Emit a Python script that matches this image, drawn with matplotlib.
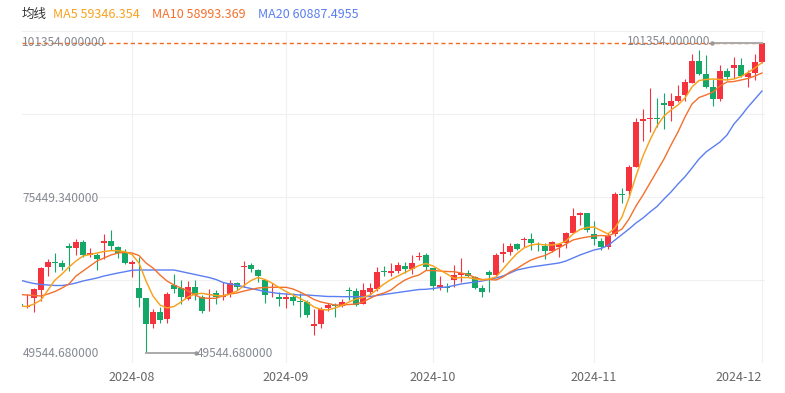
import matplotlib.pyplot as plt
from matplotlib.transforms import blended_transform_factory

plt.rcParams['font.family'] = ['Noto Sans CJK SC', 'DejaVu Sans']

# daily candles (weekdays), oldest first
opens = [57740, 57190, 58690, 60080, 63970, 64710, 64540, 67430, 67050, 68150,
         65930, 65930, 67880, 68220, 67320, 66210, 64420, 60360, 58690, 54350,
         56450, 55180, 60920, 60360, 58630, 60530, 58960, 59290, 59530, 58860,
         59360, 61200, 63970, 64260, 63420, 61750, 60360, 58960, 58530, 58960,
         58240, 58130, 54120, 54400, 57020, 57460, 57410, 60030, 59960, 57740,
         59800, 60200, 63210, 62970, 63310, 64140, 63540, 65590, 65930, 63710,
         60530, 60580, 61750, 62590, 62970, 62300, 60360, 63140, 62590, 66050,
         66480, 67720, 68490, 68550, 67770, 67430, 66650, 67320, 67880, 69660,
         72610, 72900, 69440, 68350, 67220, 69440, 76120, 76620, 80680, 88370,
         88600, 88820, 91330, 90830, 91710, 92660, 94720, 98400, 96220, 93950,
         91950, 96680, 97230, 97680, 95720, 96390, 98230]
highs = [58410, 59360, 60460, 63970, 65210, 66210, 65090, 67880, 68550, 68440,
         67150, 66310, 69440, 70110, 67480, 66880, 65090, 65640, 58690, 56860,
         57190, 59800, 62750, 61750, 61630, 61750, 59250, 60200, 60080, 61470,
         61750, 61470, 64930, 64540, 63590, 61870, 61300, 59800, 59530, 59630,
         59530, 58410, 56860, 57190, 57860, 57860, 58530, 60630, 60360, 61300,
         61300, 63970, 64090, 64640, 64810, 64760, 65930, 66480, 66210, 63810,
         62420, 61300, 64260, 65380, 63420, 62420, 60920, 63420, 66310, 67880,
         67880, 67880, 68990, 69560, 68150, 67880, 68320, 67880, 69820, 73730,
         73060, 73000, 71610, 68720, 69560, 76510, 77070, 80970, 88770, 90330,
         93780, 92110, 93050, 92950, 94340, 95290, 99520, 100180, 99350, 95290,
         97680, 97130, 98960, 98800, 96840, 99520, 101354]
lows = [57070, 57020, 56450, 58290, 62420, 63140, 63420, 63310, 65930, 65540,
        65640, 63420, 65210, 66760, 65380, 64420, 62300, 57190, 49544.68, 53780,
        54620, 54520, 59530, 57740, 58410, 58410, 56190, 56620, 57740, 58410,
        58960, 60080, 60530, 63140, 61470, 57860, 58960, 57410, 57020, 57570,
        55620, 55620, 52560, 53680, 56570, 55520, 57290, 58410, 57410, 57660,
        59250, 59960, 62420, 62420, 62870, 62970, 62750, 65090, 63420, 60080,
        60080, 59800, 60530, 61470, 62200, 60200, 58860, 59800, 62300, 64810,
        65930, 66760, 67320, 66760, 66650, 65210, 66480, 65540, 67050, 69560,
        70940, 69820, 67600, 66760, 66880, 69100, 74670, 75670, 80580, 85030,
        86530, 87270, 86930, 88370, 91550, 91710, 94620, 96010, 93780, 90880,
        91710, 95170, 95460, 95620, 94050, 95170, 97960]
closes = [57410, 57460, 60200, 63810, 64710, 64540, 63970, 67050, 68150, 65930,
          66210, 65210, 68220, 67480, 66310, 64540, 64810, 58690, 54350, 56450,
          55070, 59410, 60250, 58860, 60530, 59250, 56620, 59410, 58960, 59080,
          61200, 60530, 64090, 63540, 62420, 59250, 60530, 58630, 58960, 58240,
          58130, 55900, 54350, 56860, 57570, 57360, 58130, 59910, 57570, 60080,
          60360, 63040, 63090, 63310, 64260, 63540, 64640, 65710, 63970, 60750,
          60920, 60460, 62590, 62970, 62420, 60360, 59800, 62590, 65930, 66480,
          67480, 66930, 68600, 67880, 67650, 66650, 68100, 67720, 69660, 72450,
          72900, 70110, 68520, 67220, 69150, 76120, 76010, 80680, 88200, 88600,
          88820, 88600, 90990, 91660, 92550, 94790, 98400, 96170, 94050, 92000,
          96730, 95620, 97680, 95840, 96390, 98130, 101300]

ma5 = [57406, 57323, 57741, 58409, 60080, 61751, 62754, 63923, 64926, 65761,
       66012, 66263, 66513, 66647, 66647, 66480, 66012, 64592, 61584, 59077,
       57574, 57072, 57323, 58075, 58910, 59412, 59529, 59328, 59161, 59077,
       59412, 59913, 60832, 61667, 62169, 61835, 61250, 60498, 59829, 59245,
       58660, 58075, 57239, 56822, 56738, 57072, 57490, 58075, 58576, 58827,
       59245, 60164, 61083, 61835, 62419, 63004, 63589, 64174, 64508, 64090,
       63422, 62754, 62035, 62169, 62169, 61918, 61751, 61918, 62252, 63589,
       64926, 66179, 67098, 67599, 67767, 67599, 67599, 67767, 68268, 69438,
       70190, 70524, 70607, 70022, 69438, 70440, 72278, 75453, 79129, 82471,
       85145, 87484, 89155, 90158, 90993, 92163, 94001, 95087, 95255, 95338,
       95255, 95171, 95338, 95756, 96424, 97176, 98095]
ma10 = [59328, 59245, 59161, 59077, 59412, 59829, 60414, 61083, 62419, 63255,
        64090, 64926, 65427, 65929, 66263, 66379, 66263, 65845, 64592, 63756,
        62586, 61584, 60916, 60414, 59913, 59245, 58743, 58693, 58693, 59128,
        59412, 59579, 59913, 60164, 60414, 60498, 60531, 60531, 60531, 60247,
        59746, 59161, 58493, 58075, 57824, 57574, 57574, 57657, 57741, 58075,
        58693, 59245, 59579, 60080, 60999, 61751, 62252, 62586, 63338, 63338,
        63255, 63171, 63138, 62921, 62670, 62169, 61835, 61835, 61751, 62252,
        63088, 63673, 64425, 65093, 65511, 65845, 66430, 67098, 67767, 68435,
        68719, 68936, 69103, 69187, 69103, 69605, 70273, 71944, 74116, 75954,
        77960, 79965, 81970, 84309, 86482, 88988, 91161, 92247, 92665, 93166,
        94168, 94837, 94920, 95171, 95422, 95839, 96341]
ma20 = [61751, 61417, 61166, 60999, 60916, 60832, 60832, 60999, 61250, 61584,
        61835, 62085, 62419, 62670, 62921, 63138, 63372, 63422, 63422, 63422,
        63422, 63422, 63422, 63171, 62921, 62670, 62419, 62169, 61835, 61333,
        61083, 60916, 60581, 60331, 60080, 59829, 59662, 59495, 59412, 59328,
        59245, 59245, 59161, 59077, 58994, 58994, 58960, 58960, 58960, 58960,
        58994, 59161, 59328, 59495, 59662, 59829, 59996, 60164, 60196, 60331,
        60498, 60581, 60832, 61083, 61250, 61417, 61584, 61835, 62085, 62419,
        62921, 63422, 63672, 63923, 64090, 64258, 64424, 64592, 64926, 65427,
        65929, 66346, 66764, 67015, 67516, 68435, 69354, 70273, 71276, 72111,
        73114, 74033, 75286, 76456, 77793, 79012, 80466, 81970, 83140, 83975,
        84811, 85980, 87819, 89155, 90659, 91996, 93333]

tick_pos = [16, 38, 59, 82, 106]
tick_labels = ['2024-08', '2024-09', '2024-10', '2024-11', '2024-12']
legend_items = [('均线', '#333333'), ('MA5 59346.354', '#f8a21e'),
                ('MA10 58993.369', '#f4702c'), ('MA20 60887.4955', '#5b7ef2')]

RED, GREEN = '#f5333f', '#13a867'
W, H = 785, 393

fig = plt.figure(figsize=(W / 100, H / 100), dpi=100)
ax = fig.add_axes([21.7 / W, 1 - 363 / H, (765 - 21.7) / W, (363 - 31) / H])
ylo, yhi = 47882, 103359
ax.set_xlim(0.243, 106.43)
ax.set_ylim(ylo, yhi)

# grid
for f in (0, 0.25, 0.5, 0.75, 1.0):
    ax.axhline(ylo + f * (yhi - ylo), color='#f0f0f0', lw=0.8, zorder=0)
for t in tick_pos:
    ax.axvline(t, color='#f0f0f0', lw=0.8, zorder=0)

# candles
x = list(range(len(closes)))
colors = [RED if c >= o else GREEN for o, c in zip(opens, closes)]
bottoms = [min(o, c) for o, c in zip(opens, closes)]
heights = [max(abs(c - o), 170) for o, c in zip(opens, closes)]
ax.vlines(x, lows, highs, colors=colors, linewidth=0.8, zorder=2)
ax.bar(x, heights, bottom=bottoms, width=0.72, color=colors, linewidth=0, zorder=3)

# moving averages
ax.plot(x, ma20, color=legend_items[3][1], lw=1.0, zorder=4)
ax.plot(x, ma10, color=legend_items[2][1], lw=1.0, zorder=4)
ax.plot(x, ma5, color=legend_items[1][1], lw=1.05, zorder=4)

# last price line
ax.axhline(closes[-1], color='#f26a22', lw=1.0, ls=(0, (3.0, 2.2)), zorder=5)

# y labels: max, mid, min
hi, lo = max(highs), min(lows)
mid = (hi + lo) / 2
trans = blended_transform_factory(ax.transAxes, ax.transData)
for v in (hi, mid, lo):
    ax.text(0.001, v, f'{v:.6f}', transform=trans, ha='left', va='center',
            fontsize=8.6, color='#858991', zorder=6)

# high / low marks
ih, il = highs.index(hi), lows.index(lo)
ax.plot([ih - 7.1, ih], [hi, hi], color='#aaaaaa', lw=1.4, zorder=6)
ax.plot([ih - 7.1], [hi], 'o', ms=2.2, color='#999999', zorder=6)
ax.text(ih - 7.3, hi + 250, f'{hi:.6f}', ha='right', va='center',
        fontsize=8.6, color='#858991', zorder=6)
ax.plot([il, il + 7.1], [lo, lo], color='#aaaaaa', lw=1.4, zorder=6)
ax.plot([il + 7.1], [lo], 'o', ms=2.2, color='#999999', zorder=6)
ax.text(il + 7.3, lo, f'{lo:.6f}', ha='left', va='center',
        fontsize=8.6, color='#858991', zorder=6)

# axes
ax.set_xticks(tick_pos, tick_labels)
ax.set_yticks([])
ax.tick_params(axis='x', length=0, pad=6, labelsize=9, labelcolor='#666666')
ax.get_xticklabels()[-1].set_ha('right')
for s in ax.spines.values():
    s.set_visible(False)

# legend row
for (txt, col), px in zip(legend_items, (22, 53, 152, 258)):
    fig.text(px / W, 1 - 14 / H, txt, color=col, fontsize=9, ha='left', va='center')

fig.savefig('out.png', dpi=100)
